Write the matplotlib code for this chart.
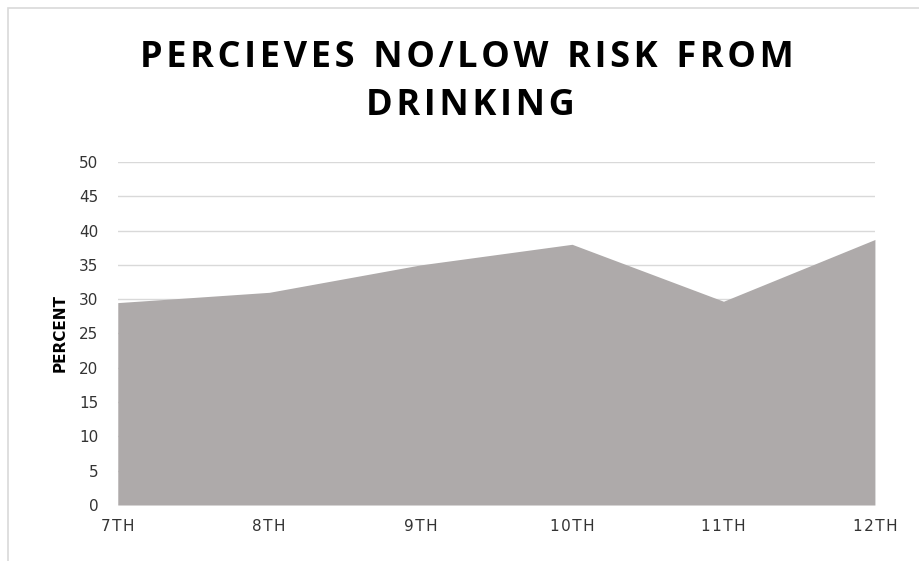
import matplotlib
matplotlib.use("Agg")
import matplotlib.pyplot as plt
from matplotlib.patches import Rectangle

categories = ["7TH", "8TH", "9TH", "10TH", "11TH", "12TH"]
percent = [29.5, 31.0, 35.0, 38.0, 29.7, 38.7]
y_ticks = [0, 5, 10, 15, 20, 25, 30, 35, 40, 45, 50]

fig = plt.figure(figsize=(9.2, 5.61), dpi=100)
fig.patches.append(Rectangle((0.009, -0.1), 1.2, 1.085, transform=fig.transFigure,
                             fill=False, edgecolor="#D9D9D9", linewidth=1.2))
ax = fig.add_axes([0.128, 0.0998, 0.823, 0.6115])

x = list(range(len(categories)))
ax.fill_between(x, percent, 0, color="#AEAAAA", linewidth=0, zorder=2)

ax.set_xlim(0, len(categories) - 1)
ax.set_ylim(0, 50)
ax.set_yticks(y_ticks)
ax.set_xticks(x)
ax.set_xticklabels(["\u200a".join(c) for c in categories], family="DejaVu Sans")
ax.grid(axis="y", color="#D9D9D9", linewidth=1, zorder=0)
ax.grid(axis="x", visible=False)
for s in ax.spines.values():
    s.set_visible(False)
ax.tick_params(length=0, labelsize=11, colors="#333333", pad=10)
ax.tick_params(axis="y", pad=14)

ax.set_ylabel("PERCENT", fontsize=11, fontweight="bold", color="black", labelpad=8)

title_kw = dict(ha="center", va="baseline", fontsize=26, fontweight="bold",
                family="Open Sans", color="black")
line1 = "  ".join("\u200a".join(w) for w in "PERCIEVES NO/LOW RISK FROM".split(" "))
fig.text(0.508, 1 - 67 / 561, line1, **title_kw)
fig.text(0.511, 1 - 115 / 561, "\u200a".join("DRINKING"), **title_kw)

fig.savefig("out.png", dpi=100)
